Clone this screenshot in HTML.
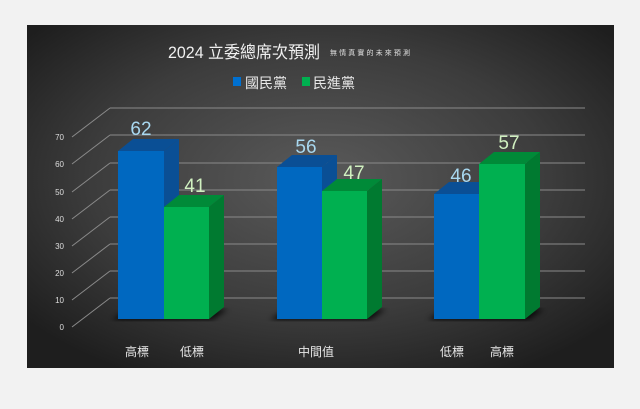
<!DOCTYPE html>
<html><head><meta charset="utf-8"><style>
body{margin:0;background:#f2f2f2;width:640px;height:409px;overflow:hidden;font-family:"Liberation Sans","Noto Sans CJK TC",sans-serif}
</style></head><body>
<svg width="640" height="409" xmlns="http://www.w3.org/2000/svg" style="position:absolute;left:0;top:0">
<defs>
<radialGradient id="bg" cx="50%" cy="45%" r="65%">
<stop offset="0" stop-color="#5a5a5a"/><stop offset="0.6" stop-color="#3c3c3c"/><stop offset="1" stop-color="#1e1e1e"/>
</radialGradient>
<filter id="sh"><feGaussianBlur stdDeviation="3"/></filter>
</defs>
<rect x="27" y="25" width="587" height="343" fill="url(#bg)"/>
<g stroke="#8a8a8a" stroke-width="1" fill="none">
<line x1="72" y1="327" x2="110" y2="298"/><line x1="110" y1="298" x2="585" y2="298"/>
<line x1="72" y1="300" x2="110" y2="271"/><line x1="110" y1="271" x2="585" y2="271"/>
<line x1="72" y1="273" x2="110" y2="244"/><line x1="110" y1="244" x2="585" y2="244"/>
<line x1="72" y1="246" x2="110" y2="217"/><line x1="110" y1="217" x2="585" y2="217"/>
<line x1="72" y1="219" x2="110" y2="190"/><line x1="110" y1="190" x2="585" y2="190"/>
<line x1="72" y1="192" x2="110" y2="163"/><line x1="110" y1="163" x2="585" y2="163"/>
<line x1="72" y1="164" x2="110" y2="135"/><line x1="110" y1="135" x2="585" y2="135"/>
<line x1="72" y1="137" x2="110" y2="108"/><line x1="110" y1="108" x2="585" y2="108"/>
</g>
<g fill="#ddd" font-size="8" text-anchor="end">
<text x="64" y="330">0</text><text x="64" y="303">10</text><text x="64" y="276">20</text><text x="64" y="249">30</text>
<text x="64" y="222">40</text><text x="64" y="195">50</text><text x="64" y="167">60</text><text x="64" y="140">70</text>
</g>
<g fill="#000" opacity="0.8" filter="url(#sh)">
<polygon points="112,320 212,320 228,309 128,309"/>
<polygon points="270,320 370,320 386,309 286,309"/>
<polygon points="428,320 528,320 544,309 444,309"/>
</g>
<g>
<rect x="118" y="151" width="46" height="168" fill="#0068c0"/>
<polygon points="118,151 133,139 179,139 164,151" fill="#0a4f95"/>
<polygon points="164,151 179,139 179,307 164,319" fill="#0a4f95"/>
<rect x="164" y="207" width="45" height="112" fill="#00b050"/>
<polygon points="164,207 179,195 224,195 209,207" fill="#008a38"/>
<polygon points="209,207 224,195 224,307 209,319" fill="#007a30"/>

<rect x="277" y="167" width="45" height="152" fill="#0068c0"/>
<polygon points="277,167 292,155 337,155 322,167" fill="#0a4f95"/>
<polygon points="322,167 337,155 337,307 322,319" fill="#0a4f95"/>
<rect x="322" y="191" width="45" height="128" fill="#00b050"/>
<polygon points="322,191 337,179 382,179 367,191" fill="#008a38"/>
<polygon points="367,191 382,179 382,307 367,319" fill="#007a30"/>

<rect x="434" y="194" width="45" height="125" fill="#0068c0"/>
<polygon points="434,194 449,182 494,182 479,194" fill="#0a4f95"/>
<rect x="479" y="164" width="46" height="155" fill="#00b050"/>
<polygon points="479,164 494,152 540,152 525,164" fill="#008a38"/>
<polygon points="525,164 540,152 540,307 525,319" fill="#007a30"/>
</g>
<g font-size="19" text-anchor="middle">
<text x="141" y="135" fill="#a8d8f0">62</text>
<text x="195" y="192" fill="#d0f0c0">41</text>
<text x="306" y="153" fill="#a8d8f0">56</text>
<text x="354" y="179" fill="#d0f0c0">47</text>
<text x="461" y="182" fill="#a8d8f0">46</text>
<text x="509" y="149" fill="#d0f0c0">57</text>
</g>
<g font-size="12" fill="#e8e8e8" text-anchor="middle">
<text x="137" y="356">高標</text><text x="192" y="356">低標</text>
<text x="316" y="356">中間值</text>
<text x="452" y="356">低標</text><text x="502" y="356">高標</text>
</g>
<text x="168" y="58" font-size="17" fill="#f0f0f0" textLength="152" lengthAdjust="spacingAndGlyphs">2024 立委總席次預測</text>
<text x="330" y="55" font-size="7" fill="#e0e0e0" textLength="80" lengthAdjust="spacing">無情真實的未來預測</text>
<rect x="233" y="77" width="8" height="9" fill="#0070d0"/>
<text x="245" y="88" font-size="14" fill="#e8e8e8">國民黨</text>
<rect x="302" y="77" width="8" height="9" fill="#00b050"/>
<text x="313" y="88" font-size="14" fill="#e8e8e8">民進黨</text>
</svg>
</body></html>
